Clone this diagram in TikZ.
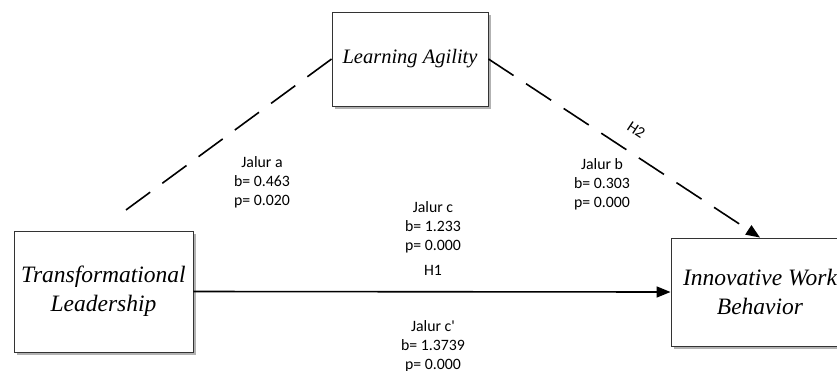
\documentclass[tikz,border=0pt]{standalone}
\usepackage{fontspec}
\setmainfont{Liberation Serif}
\newfontfamily\labelfont{Carlito}
\usetikzlibrary{arrows.meta,shadows,positioning}

\begin{document}
\begin{tikzpicture}[
  x=1pt, y=-1pt,
  construct/.style={rectangle, draw=black!80, line width=0.9pt, fill=white, align=center,
    drop shadow={shadow xshift=3pt, shadow yshift=-3pt, fill=black!60, opacity=0.5},
    font=\itshape\fontsize{23.5}{29}\selectfont},
  path label/.style={align=center, inner sep=1pt, font=\labelfont\fontsize{15.8}{19}\selectfont},
  mediation/.style={line width=1.6pt, dash pattern=on 30pt off 15pt},
  direct/.style={line width=1.6pt},
  tip/.style={-{Triangle[length=14pt,width=11pt]}}
]
  \useasboundingbox (0,0) rectangle (837,370);
  \node[construct, minimum width=156, minimum height=94,
        font=\itshape\fontsize{20.5}{25}\selectfont] (LA)  at (410, 59)    {Learning Agility};
  \node[construct, minimum width=179, minimum height=121] (TL)  at (103.5, 291.5) {Transformational\\Leadership};
  \node[construct, minimum width=178, minimum height=108] (IWB) at (760, 292)     {Innovative Work\\Behavior};
  \coordinate (aEnd) at (115, 218);
  \draw[mediation] (LA.west) -- (aEnd);
  \draw[mediation, tip] (LA.east) -- node[pos=0.5, sloped, above=15pt, path label] {H2} (IWB.north);
  \draw[direct, tip] (TL.east) -- (IWB.west);
  \node[path label] (pathA)  at (262, 182) {Jalur a\\b= 0.463\\p= 0.020};
  \node[path label] (pathB)  at (602, 184) {Jalur b\\b= 0.303\\p= 0.000};
  \node[path label] (pathC)  at (433, 227) {Jalur c\\b= 1.233\\p= 0.000};
  \node[path label] (hypC)   at (433, 270) {H1};
  \node[path label] (pathCp) at (433, 346) {Jalur c'\\b= 1.3739\\p= 0.000};
\end{tikzpicture}
\end{document}
